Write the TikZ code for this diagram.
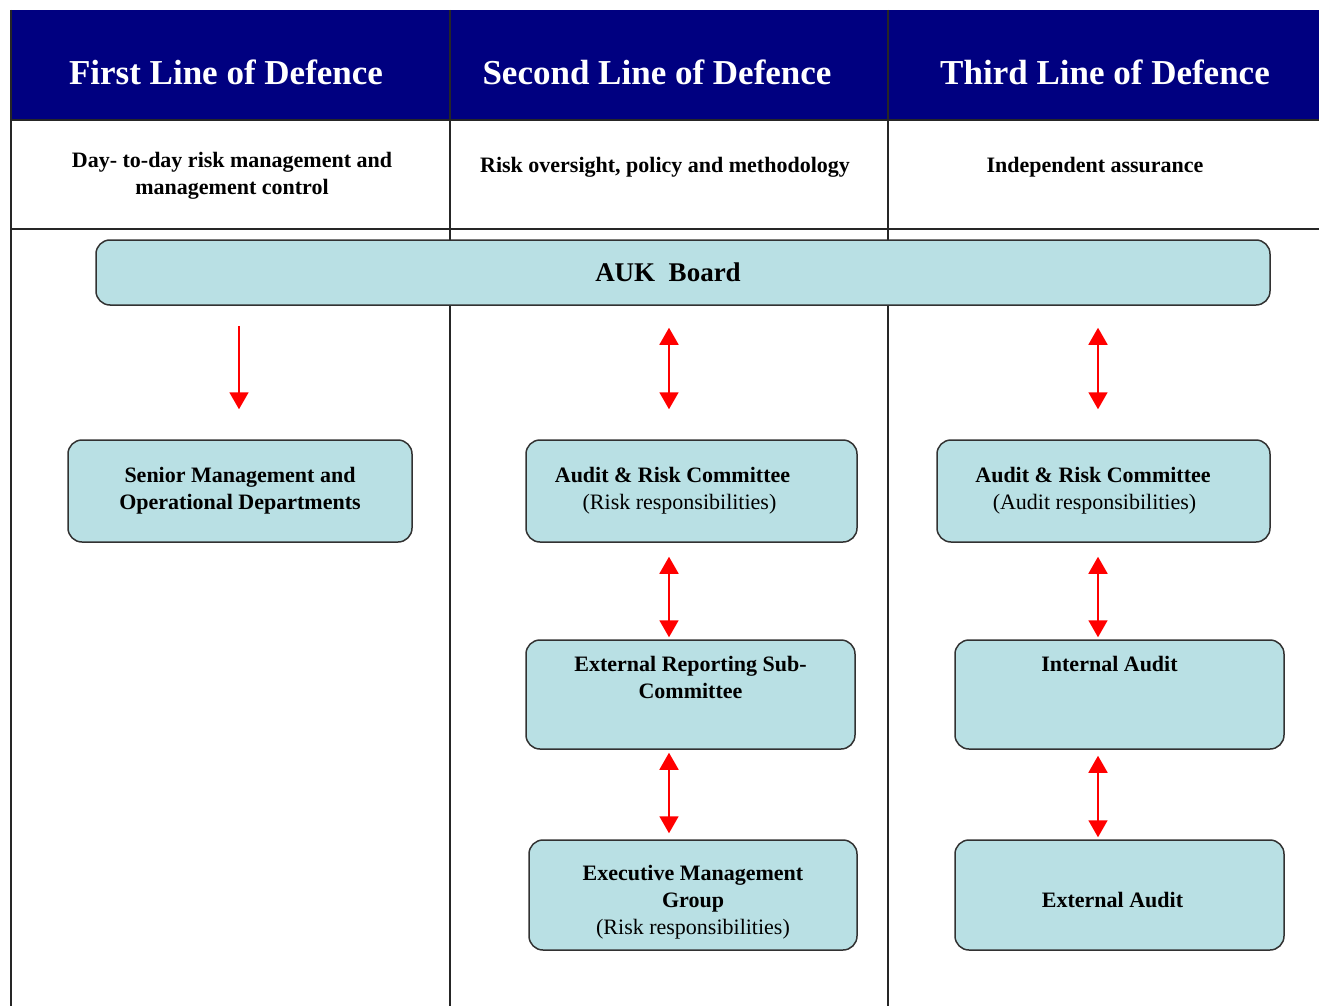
\documentclass[tikz,border=0pt]{standalone}
\usepackage{fontspec}
\setmainfont{Liberation Serif}
\usetikzlibrary{arrows.meta}
\definecolor{deepnavy}{RGB}{0,0,128}
\definecolor{paleteal}{RGB}{185,224,228}
\definecolor{boxedge}{RGB}{50,50,50}
\tikzset{headtext/.style={text=white,font=\fontsize{35}{40}\selectfont\bfseries},
         subtext/.style={align=center,font=\fontsize{22}{27}\selectfont\bfseries},
         rulebox/.style={draw=boxedge,line width=1.5pt,fill=paleteal,rounded corners=14pt,align=center,inner sep=0pt,font=\fontsize{22}{27}\selectfont\bfseries},
         tline/.style={line width=1.5pt,black!85},
         onelink/.style={red,line width=1.8pt,-{Triangle[width=19pt,length=17pt]}},
         twolink/.style={red,line width=1.8pt,{Triangle[width=19pt,length=17pt]}-{Triangle[width=19pt,length=17pt]}}}

\begin{document}
\begin{tikzpicture}[x=1pt,y=-1pt]
                  \useasboundingbox (0,0) rectangle (1319,1006);
                  % table grid
                  \fill[deepnavy] (10,10) rectangle (1319,120);
                  \draw[tline] (10,120) -- (1319,120);
                  \draw[tline] (10,229) -- (1319,229);
                  \foreach \cx in {11,450,888} \draw[tline] (\cx,10) -- (\cx,1006);
                  \node[headtext] (h1) at (226,72) {First Line of Defence};
                  \node[headtext] (h2) at (657,72) {Second Line of Defence};
                  \node[headtext] (h3) at (1105,72) {Third Line of Defence};
                  \node[subtext] (s1) at (232,176) {Day- to-day risk management and\\management control};
                  \node[subtext] (s2) at (665,167) {Risk oversight, policy and methodology};
                  \node[subtext] (s3) at (1095,167) {Independent assurance};
                  % boxes
                  \node[rulebox,minimum width=1174pt,minimum height=65pt,font=\fontsize{27}{30}\selectfont\bfseries] (board) at (683,272.5) {AUK\ \ Board\hspace*{30pt}};
                  \node[rulebox,minimum width=344pt,minimum height=102pt] (senior) at (240,491) {Senior Management and\\Operational Departments};
                  \node[rulebox,minimum width=331pt,minimum height=102pt] (arcrisk) at (691.5,491) {Audit \& Risk Committee\hspace*{38pt}\\{\mdseries (Risk responsibilities)}\hspace*{24pt}};
                  \node[rulebox,minimum width=333pt,minimum height=102pt] (arcaudit) at (1103.5,491) {Audit \& Risk Committee\hspace*{21pt}\\{\mdseries (Audit responsibilities)}\hspace*{18pt}};
                  \node[rulebox,minimum width=329pt,minimum height=109pt] (ersc) at (690.5,694.5) {External Reporting Sub-\\Committee\\\strut};
                  \node[rulebox,minimum width=329pt,minimum height=109pt] (ia) at (1119.5,694.5) {Internal Audit\hspace*{20pt}\\\strut\\\strut};
                  \node[rulebox,minimum width=328pt,minimum height=110pt] (emg) at (693,895) {\rule{0pt}{30pt}Executive Management\\Group\\{\mdseries (Risk responsibilities)}};
                  \node[rulebox,minimum width=329pt,minimum height=110pt] (ea) at (1119.5,895) {\rule{0pt}{26pt}External Audit\hspace*{14pt}};
                  % arrows
                  \coordinate (c1) at (239,0);
                  \coordinate (c2) at (669,0);
                  \coordinate (c3) at (1098,0);
                  \draw[onelink,shorten <=20pt,shorten >=30pt] (board.south -| c1) -- (senior.north -| c1);
                  \draw[twolink,shorten <=22pt,shorten >=30pt] (board.south -| c2) -- (arcrisk.north -| c2);
                  \draw[twolink,shorten <=22pt,shorten >=30pt] (board.south -| c3) -- (arcaudit.north -| c3);
                  \draw[twolink,shorten <=14pt,shorten >=2pt] (arcrisk.south -| c2) -- (ersc.north -| c2);
                  \draw[twolink,shorten <=14pt,shorten >=2pt] (arcaudit.south -| c3) -- (ia.north -| c3);
                  \draw[twolink,shorten <=3pt,shorten >=6pt] (ersc.south -| c2) -- (emg.north -| c2);
                  \draw[twolink,shorten <=6pt,shorten >=2pt] (ia.south -| c3) -- (ea.north -| c3);
              \end{tikzpicture}
\end{document}
